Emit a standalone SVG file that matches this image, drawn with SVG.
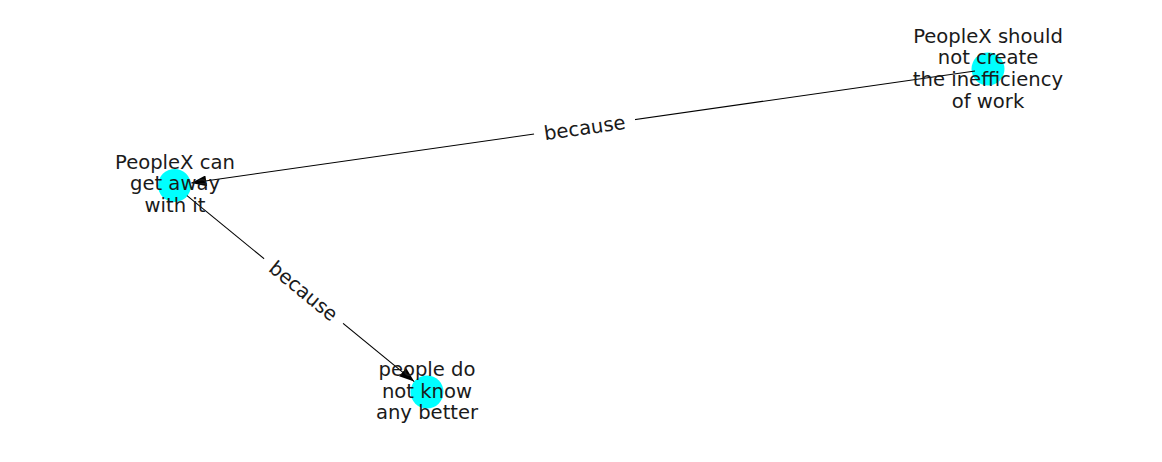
<svg xmlns="http://www.w3.org/2000/svg" width="1162" height="462" viewBox="0 0 1162 462">
<style>
.node{fill:#00ffff}
.edge{stroke:#000;stroke-width:1.1;fill:none}
.lbl{font-family:"DejaVu Sans",sans-serif;font-size:19.6px;fill:#1a1a1a;text-anchor:middle}
.elbl{font-family:"DejaVu Sans",sans-serif;font-size:19.6px;fill:#1a1a1a;text-anchor:middle}
</style>
<defs>
<marker id="arr" viewBox="0 0 15 11" refX="15" refY="5.5" markerWidth="15" markerHeight="11" markerUnits="userSpaceOnUse" orient="auto">
<path d="M0,0 L15,5.5 L0,11 Z" fill="#000"/>
</marker>
</defs>
<rect width="1162" height="462" fill="#fff"/>
<g id="node-A"><circle class="node" cx="988" cy="69" r="16.5"/></g>
<g id="node-B"><circle class="node" cx="174.5" cy="185.5" r="16.5"/></g>
<g id="node-C"><circle class="node" cx="427" cy="392" r="16.5"/></g>
<g id="edges">
<line class="edge" x1="975" y1="71" x2="191.3" y2="183" marker-end="url(#arr)"/>
<line class="edge" x1="187" y1="195.6" x2="414.2" y2="381.6" marker-end="url(#arr)"/>
<g transform="translate(584.5,126.6) rotate(-8.13)">
<rect x="-51" y="-14" width="102" height="28" fill="#fff"/>
<text class="elbl" x="0" y="8">because</text>
</g>
<g transform="translate(304,290.5) rotate(39.3)">
<rect x="-51" y="-14" width="102" height="28" fill="#fff"/>
<text class="elbl" x="0" y="7.5">because</text>
</g>
</g>
<g id="labels">
<text class="lbl" x="988"><tspan x="988" y="42.5">PeopleX should</tspan><tspan x="988" y="64.2">not create</tspan><tspan x="988" y="85.9">the inefficiency</tspan><tspan x="988" y="107.6">of work</tspan></text>
<text class="lbl" x="175"><tspan x="175" y="168.5">PeopleX can</tspan><tspan x="175" y="190.2">get away</tspan><tspan x="175" y="211.9">with it</tspan></text>
<text class="lbl" x="427"><tspan x="427" y="376">people do</tspan><tspan x="427" y="397.7">not know</tspan><tspan x="427" y="419.4">any better</tspan></text>
</g>
</svg>
